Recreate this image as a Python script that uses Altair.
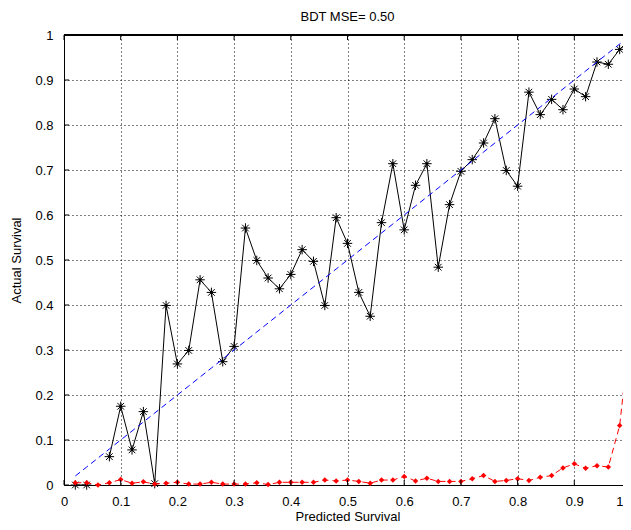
import altair as alt
import pandas as pd

# Predicted survival bin centres
pred = [0.02, 0.04, 0.06, 0.08, 0.10, 0.12, 0.14, 0.16, 0.18, 0.20,
        0.22, 0.24, 0.26, 0.28, 0.30, 0.32, 0.34, 0.36, 0.38, 0.40,
        0.42, 0.44, 0.46, 0.48, 0.50, 0.52, 0.54, 0.56, 0.58, 0.60,
        0.62, 0.64, 0.66, 0.68, 0.70, 0.72, 0.74, 0.76, 0.78, 0.80,
        0.82, 0.84, 0.86, 0.88, 0.90, 0.92, 0.94, 0.96, 0.98, 1.00]

# Actual survival (black, asterisks); None = empty bin
actual = [0.0, 0.0, None, 0.063, 0.175, 0.078, 0.163, 0.003, 0.399, 0.269,
          0.299, 0.456, 0.428, 0.274, 0.308, 0.571, 0.499, 0.460, 0.436, 0.468,
          0.523, 0.497, 0.399, 0.594, 0.537, 0.428, 0.375, 0.583, 0.714, 0.567,
          0.666, 0.714, 0.484, 0.623, 0.697, 0.723, 0.760, 0.814, 0.699, 0.664,
          0.873, 0.823, 0.857, 0.834, 0.880, 0.863, 0.940, 0.935, 0.968, 0.988]

# Fraction of events per bin (red, dashed)
fraction = [0.005, 0.005, 0.000, 0.005, 0.012, 0.004, 0.007, 0.002, 0.004, 0.006,
            0.002, 0.002, 0.006, 0.002, 0.002, 0.002, 0.005, 0.001, 0.006, 0.006,
            0.006, 0.006, 0.011, 0.009, 0.011, 0.008, 0.004, 0.011, 0.011, 0.019,
            0.009, 0.015, 0.008, 0.008, 0.008, 0.014, 0.021, 0.008, 0.010, 0.014,
            0.010, 0.017, 0.021, 0.038, 0.047, 0.037, 0.043, 0.040, 0.132, 0.360]

ticks = [0, 0.1, 0.2, 0.3, 0.4, 0.5, 0.6, 0.7, 0.8, 0.9, 1]

W, H = 567, 450
FONT = "Liberation Sans"
ASTERISK = "M-1,0L1,0M0,-1L0,1M-0.7,-0.7L0.7,0.7M-0.7,0.7L0.7,-0.7"

df = pd.DataFrame({"pred": pred, "actual": actual, "fraction": fraction})
df["diag"] = df["pred"]
df["seg"] = df["actual"].isna().cumsum()
dfb = df.dropna(subset=["actual"])
dft = pd.DataFrame({"t": ticks})

xs = alt.Scale(domain=[0, 1], nice=False, zero=False)
ys = alt.Scale(domain=[0, 1], nice=False, zero=False)

x_axis = alt.Axis(values=ticks, format="~g", ticks=False, grid=True,
                  gridDash=[1, 3], gridColor="black", gridOpacity=1,
                  labelPadding=10, titlePadding=2, labelFlush=False,
                  labelAlign={"condition": {"test": "datum.value == 1", "value": "right"},
                              "value": "center"},
                  labelOffset={"condition": {"test": "datum.value == 1", "value": -8},
                               "value": 0})
y_axis = alt.Axis(values=ticks, format="~g", ticks=False, grid=True,
                  gridDash=[1, 3], gridColor="black", gridOpacity=1,
                  labelPadding=11, titlePadding=11, labelFlush=False)


def X(field):
    return alt.X(field, type="quantitative", scale=xs, axis=x_axis, title="Predicted Survival")


def Y(field):
    return alt.Y(field, type="quantitative", scale=ys, axis=y_axis, title="Actual Survival")


black_line = alt.Chart(dfb).mark_line(color="black", strokeWidth=1).encode(
    x=X("pred"), y=Y("actual"), detail="seg:N")
black_pts = alt.Chart(dfb).mark_point(
    shape=ASTERISK, size=90, filled=False, color="black", strokeWidth=1, opacity=1
).encode(x=X("pred"), y=Y("actual"))
black_dot = alt.Chart(dfb).mark_circle(size=8, color="black", opacity=1).encode(
    x=X("pred"), y=Y("actual"))

diag = alt.Chart(df).mark_line(color="#0000FF", strokeWidth=1, strokeDash=[6, 4]).encode(
    x=X("pred"), y=Y("diag"))

red_line = alt.Chart(df).mark_line(color="#FF0000", strokeWidth=1, strokeDash=[6, 4]).encode(
    x=X("pred"), y=Y("fraction"))
red_pts = alt.Chart(df).mark_point(shape="diamond", size=30, filled=True, color="#FF0000", opacity=1).encode(
    x=X("pred"), y=Y("fraction"))

# MATLAB-style box: top border and inward ticks on all four sides
top_border = alt.Chart(dft).mark_rule(color="black", strokeWidth=1).encode(
    x=alt.value(0), x2=alt.value(W), y=alt.value(0))
tick_b = alt.Chart(dft).mark_rule(color="black").encode(
    x=X("t"), y=alt.value(H), y2=alt.value(H - 5))
tick_t = alt.Chart(dft).mark_rule(color="black").encode(
    x=X("t"), y=alt.value(0), y2=alt.value(5))
tick_l = alt.Chart(dft).mark_rule(color="black").encode(
    y=Y("t"), x=alt.value(0), x2=alt.value(5))
tick_r = alt.Chart(dft).mark_rule(color="black").encode(
    y=Y("t"), x=alt.value(W), x2=alt.value(W - 5))

chart = alt.layer(
    black_line, black_pts, black_dot, diag, red_line, red_pts,
    top_border, tick_b, tick_t, tick_l, tick_r,
).properties(
    width=W, height=H,
    title=alt.TitleParams("BDT MSE= 0.50", font=FONT, fontSize=13, fontWeight="normal",
                          color="black", offset=5, anchor="middle"),
    autosize=alt.AutoSizeParams(type="none"),
    padding={"left": 56, "top": 27, "right": -8, "bottom": 37},
).configure_view(stroke=None).configure_axis(
    domainColor="black", domainWidth=1, labelColor="black", labelFont=FONT,
    labelFontSize=13, titleFont=FONT, titleFontSize=13, titleColor="black",
    titleFontWeight="normal",
)

chart.save("out.html", embed_options={"renderer": "svg", "actions": False})
